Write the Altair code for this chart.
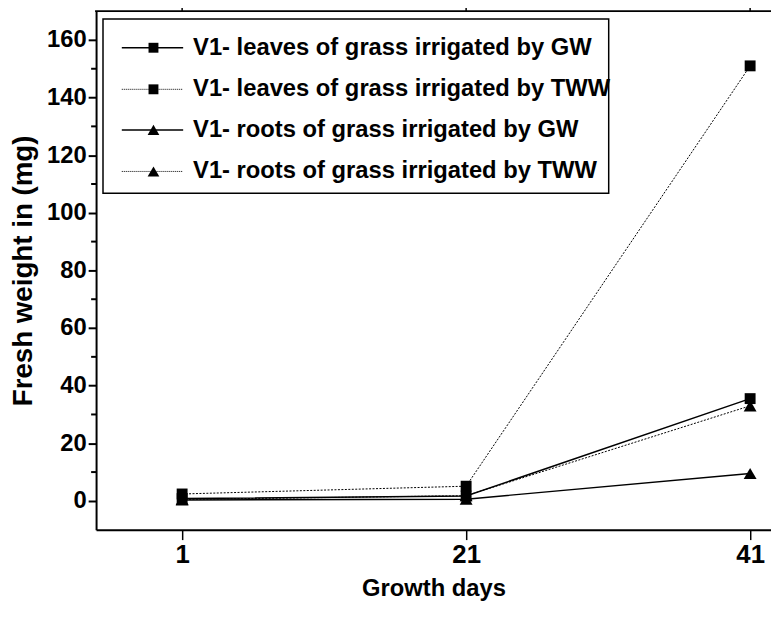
import altair as alt
import pandas as pd

days = [1, 21, 41]
series_names = [
    "V1- leaves of grass irrigated by GW",
    "V1- leaves of grass irrigated by TWW",
    "V1- roots of grass irrigated by GW",
    "V1- roots of grass irrigated by TWW",
]
leaves_gw = [0.8, 1.7, 35.5]
leaves_tww = [2.4, 5.1, 151.0]
roots_gw = [0.3, 0.6, 9.5]
roots_tww = [0.5, 1.8, 33.0]
y_major = [0, 20, 40, 60, 80, 100, 120, 140, 160]
y_minor = [10, 30, 50, 70, 90, 110, 130, 150]

values = [leaves_gw, leaves_tww, roots_gw, roots_tww]
shapes = ["square", "square", "triangle-up", "triangle-up"]
dotted = [False, True, False, True]

NARROW = "Liberation Sans Narrow, Arial Narrow, Liberation Sans, Arial, sans-serif"
WIDE = "Liberation Sans, Arial, sans-serif"

W, H = 682, 524
xs = alt.Scale(domain=[-5.06, 42.47], nice=False, zero=False)
ys = alt.Scale(domain=[-10, 170], nice=False, zero=False)

layers = []

# minor ticks on y axis
minor_df = pd.DataFrame({"v": y_minor})
layers.append(
    alt.Chart(minor_df).mark_rule(color="black", strokeWidth=2, clip=False).encode(
        x=alt.value(-5), x2=alt.value(0), y=alt.Y("v:Q", scale=ys)
    )
)
# top frame line and top ticks
layers.append(
    alt.Chart(pd.DataFrame({"a": [0]})).mark_rule(color="black", strokeWidth=2, clip=False).encode(
        x=alt.value(-1), x2=alt.value(W + 5), y=alt.value(0)
    )
)
layers.append(
    alt.Chart(pd.DataFrame({"d": days})).mark_rule(color="black", strokeWidth=1.5, clip=False).encode(
        x=alt.X("d:Q", scale=xs), y=alt.value(-4), y2=alt.value(0)
    )
)

for name, vals, shp, dot in zip(series_names, values, shapes, dotted):
    df = pd.DataFrame({"day": days, "w": vals, "series": name})
    line_kw = dict(color="black", strokeWidth=1 if dot else 1.5)
    if dot:
        line_kw["strokeDash"] = [2, 1.5]
    base = alt.Chart(df).encode(
        x=alt.X("day:Q", scale=xs,
                axis=alt.Axis(values=days, title="Growth days", grid=False,
                              tickSize=10, tickWidth=1.5, domainWidth=2, domainColor="black",
                              tickColor="black", labelFont=NARROW, labelFontSize=26,
                              labelFontWeight="bold", labelColor="black", labelPadding=2,
                              titleFont=NARROW, titleFontSize=24, titleFontWeight="bold",
                              titleColor="black", titlePadding=10)),
        y=alt.Y("w:Q", scale=ys,
                axis=alt.Axis(values=y_major, title="Fresh weight in (mg)", grid=False,
                              tickSize=8, tickWidth=2, domainWidth=2, domainColor="black",
                              tickColor="black", labelFont=NARROW, labelFontSize=24,
                              labelFontWeight="bold", labelColor="black", labelPadding=2,
                              titleFont=WIDE, titleFontSize=28, titleFontWeight="bold",
                              titleColor="black", titlePadding=9)),
    )
    layers.append(base.mark_line(**line_kw))
    layers.append(base.mark_point(shape=shp, filled=True, color="black", opacity=1,
                                  size=121 if shp == "square" else 170))

# legend box
layers.append(
    alt.Chart(pd.DataFrame({"a": [0]})).mark_rect(fill="white", stroke="black", strokeWidth=1.5).encode(
        x=alt.value(7), x2=alt.value(518), y=alt.value(8), y2=alt.value(184)
    )
)
row_y = [37, 79, 120, 162]
for name, shp, dot, ry in zip(series_names, shapes, dotted, row_y):
    one = pd.DataFrame({"label": [name]})
    rk = dict(color="black", strokeWidth=1 if dot else 1.5)
    if dot:
        rk["strokeDash"] = [1, 1]
    layers.append(alt.Chart(one).mark_rule(**rk).encode(
        x=alt.value(26), x2=alt.value(88), y=alt.value(ry)))
    layers.append(alt.Chart(one).mark_point(shape=shp, filled=True, color="black", opacity=1,
                                            size=100 if shp == "square" else 140).encode(
        x=alt.value(58), y=alt.value(ry)))
    layers.append(alt.Chart(one).mark_text(align="left", baseline="middle", font=NARROW,
                                           fontSize=24, fontWeight="bold", color="black").encode(
        x=alt.value(98), y=alt.value(ry), text="label:N"))

chart = alt.layer(*layers).properties(
    width=W, height=H,
    autosize=alt.AutoSizeParams(type="none"),
    padding={"left": 89, "top": 0, "right": 0, "bottom": 80},
).configure_view(strokeWidth=0).configure(background="white")

chart.save("out.html", embed_options={"renderer": "svg", "actions": False})
